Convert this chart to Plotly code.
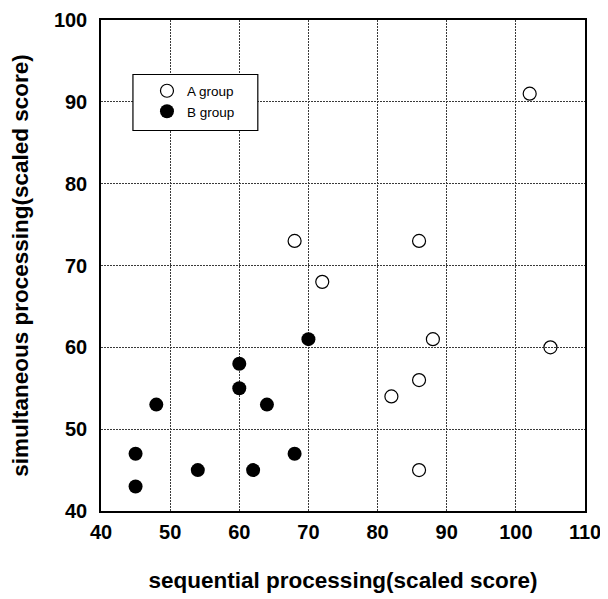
import plotly.graph_objects as go

a_x = [102, 68, 86, 72, 88, 105, 86, 82, 86]
a_y = [91, 73, 73, 68, 61, 60, 56, 54, 45]
b_x = [45, 45, 48, 54, 60, 60, 64, 62, 68, 70]
b_y = [47, 43, 53, 45, 58, 55, 53, 45, 47, 61]

x_ticks = [40, 50, 60, 70, 80, 90, 100, 110]
y_ticks = [40, 50, 60, 70, 80, 90, 100]

fig = go.Figure()
fig.add_trace(go.Scatter(
    x=a_x, y=a_y, mode="markers", name="A group",
    marker=dict(symbol="circle-open", size=13, color="black", line=dict(width=1.2, color="black")),
))
fig.add_trace(go.Scatter(
    x=b_x, y=b_y, mode="markers", name="B group",
    marker=dict(symbol="circle", size=14, color="black"),
))

axis_common = dict(
    showline=True, linecolor="black", linewidth=1.5, mirror=True,
    showgrid=True, gridcolor="#3a3a3a", griddash="2px,1px", gridwidth=1,
    zeroline=False, ticks="", automargin=False,
    tickfont=dict(family="Liberation Sans", size=20, color="black", weight="bold"),
)

fig.update_xaxes(
    range=[40, 110], tickvals=x_ticks, ticktext=[str(v) for v in x_ticks],
    ticklabelstandoff=2,
    title=dict(text="sequential processing(scaled score)", standoff=30,
               font=dict(family="Liberation Sans", size=22.5, color="black", weight="bold")),
    **axis_common,
)
fig.update_yaxes(
    range=[40, 100], tickvals=y_ticks, ticktext=[str(v) for v in y_ticks],
    ticklabelstandoff=8,
    title=dict(text="simultaneous processing(scaled score)", standoff=20,
               font=dict(family="Liberation Sans", size=22.5, color="black", weight="bold")),
    **axis_common,
)

fig.add_shape(
    type="rect", xref="paper", yref="paper",
    x0=0.066, x1=0.324, y0=0.775, y1=0.889,
    line=dict(color="black", width=1.2), fillcolor="white", layer="above",
)

fig.update_layout(
    width=600, height=591,
    margin=dict(l=93, r=23, t=12, b=88),
    paper_bgcolor="white", plot_bgcolor="white",
    showlegend=True,
    legend=dict(
        x=0.095, y=0.887, xanchor="left", yanchor="top",
        bgcolor="rgba(0,0,0,0)", borderwidth=0,
        font=dict(family="Liberation Sans", size=13.5, color="black"),
        tracegroupgap=0, itemwidth=30,
    ),
)

fig.write_html("out.html")
